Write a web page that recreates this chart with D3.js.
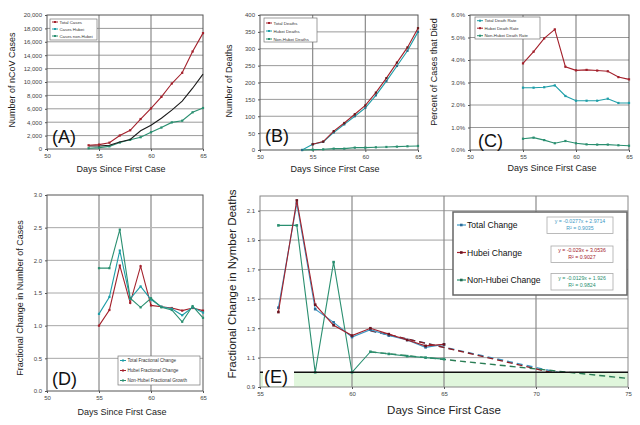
<!DOCTYPE html>
<html><head><meta charset="utf-8">
<script src="https://cdn.jsdelivr.net/npm/d3@7"></script>
<style>body{margin:0;background:#fff}svg{display:block;font-family:Arial,"Liberation Sans",sans-serif}</style>
</head><body><svg width="640" height="425"></svg>
<script>
// ---------- DATA ----------
const casesDays = [54,55,56,57,58,59,60,61,62,63,64,65];
const totalCases = [555,653,941,2019,2794,4473,6057,7783,9776,11374,14549,17295];
const hubeiCases = [444,444,549,1052,1423,2714,3554,4586,5806,7153,9074,11177];
const nonHubeiCases = [111,209,392,967,1371,1759,2503,3197,3970,4221,5475,6118];

const deathDays = [54,55,56,57,58,59,60,61,62,63,64,65];
const totalDeaths = [null,17,25,56,80,106,132,170,213,259,304,361];
const hubeiDeaths = [0,17,24,52,76,100,125,162,204,249,294,350];
const nonHubeiDeaths = [0,1,2,4,4,7,7,8,9,10,11,12];

const rateDays = [55,56,57,58,59,60,61,62,63,64,65];
const totalDeathRate = [2.77,2.77,2.79,2.87,2.40,2.19,2.19,2.19,2.28,2.09,2.09];
const hubeiDeathRate = [3.85,4.37,4.96,5.36,3.70,3.54,3.56,3.53,3.50,3.24,3.14];
const nonHubeiDeathRate = [0.50,0.55,0.44,0.30,0.40,0.30,0.25,0.24,0.24,0.21,0.19];

const fracDays = [55,56,57,58,59,60,61,62,63,64,65];
const totalFrac = [1.18,1.44,2.15,1.41,1.60,1.40,1.29,1.26,1.16,1.28,1.20];
const hubeiFrac = [1.00,1.24,1.92,1.35,1.91,1.31,1.29,1.27,1.23,1.27,1.23];
const nonHubeiFrac = [1.88,1.88,2.47,1.42,1.28,1.42,1.28,1.24,1.06,1.30,1.12];

const deathChangeDays = [56,57,58,59,60,61,62,63,64,65];
const totalDeathChange = [1.44,2.15,1.43,1.34,1.24,1.29,1.25,1.22,1.17,1.19];
const hubeiDeathChange = [1.41,2.17,1.46,1.32,1.25,1.30,1.26,1.22,1.18,1.19];
const nonHubeiDeathChange = [2.0,2.0,1.0,1.75,1.0,1.14,1.125,1.11,1.10,1.09];

const trendNames = ["Total Change","Hubei Change","Non-Hubei Change"];
const trendSlopes = [-0.0277,-0.029,-0.0129];
const trendIntercepts = [2.9714,3.0536,1.926];
const trendR2 = ["0.9035","0.9027","0.9824"];
const trendStart = 61, trendEnd = 75;

const ticksCases = [0,2000,4000,6000,8000,10000,12000,14000,16000,18000,20000];
const ticksDeaths = [0,50,100,150,200,250,300,350,400];
const ticksRate = [0,1,2,3,4,5,6];
const ticksFrac = [0,0.5,1,1.5,2,2.5,3];
const ticksChange = [0.9,1.1,1.3,1.5,1.7,1.9,2.1];
const ticksDaysSmall = [50,55,60,65];
const ticksDaysE = [55,60,65,70,75];

// ---------- STYLE ----------
const RED = "#a3202b", TEAL = "#1e9ea8", GREEN = "#2a8f70", DARK = "#1a1a1a", BLUE = "#3c98c4";
const svg = d3.select("svg");

function panel(o) {
  const x = d3.scaleLinear().domain(o.xDomain).range([o.left, o.right]);
  const y = d3.scaleLinear().domain(o.yDomain).range([o.bottom, o.top]);
  const g = svg.append("g");
  g.append("rect").attr("x", o.left).attr("y", o.top).attr("width", o.right - o.left)
    .attr("height", o.bottom - o.top).attr("fill", "#fff");
  if (o.shade) o.shade(g, x, y);
  g.selectAll(null).data(o.yTicks.filter(t => t !== o.yDomain[0] && t !== o.yDomain[1])).join("line")
    .attr("x1", o.left).attr("x2", o.right).attr("y1", d => y(d)).attr("y2", d => y(d))
    .attr("stroke", o.hColor || "#9a9a9a").attr("stroke-width", o.hWidth || 1);
  g.selectAll(null).data(o.vGrid).join("line")
    .attr("y1", o.top).attr("y2", o.bottom).attr("x1", d => x(d)).attr("x2", d => x(d))
    .attr("stroke", o.vColor || "#8a8a8a").attr("stroke-width", o.vWidth || 1.2);
  g.append("rect").attr("x", o.left).attr("y", o.top).attr("width", o.right - o.left)
    .attr("height", o.bottom - o.top).attr("fill", "none").attr("stroke", o.border || "#555").attr("stroke-width", 1);
  const ya = g.append("g").attr("transform", `translate(${o.left},0)`)
    .call(d3.axisLeft(y).tickValues(o.yTicks).tickFormat(o.yFmt).tickSize(2).tickPadding(3));
  const xa = g.append("g").attr("transform", `translate(0,${o.bottom})`)
    .call(d3.axisBottom(x).tickValues(o.xTicks).tickFormat(d3.format("d")).tickSize(2).tickPadding(3));
  [ya, xa].forEach(a => {
    a.select(".domain").remove();
    a.selectAll("line").attr("stroke", "#555");
    a.selectAll("text").attr("font-size", o.tickSize || 6).attr("fill", "#444").attr("font-family", "Arial, Liberation Sans");
  });
  g.append("text").attr("x", o.xTitle[0]).attr("y", o.xTitle[1]).attr("text-anchor", "middle")
    .attr("font-size", o.titleSize || 8.5).attr("fill", "#222").text("Days Since First Case");
  g.append("text").attr("transform", `translate(${o.yTitle[0]},${o.yTitle[1]}) rotate(-90)`)
    .attr("text-anchor", "middle").attr("font-size", o.titleSize || 8.5).attr("fill", "#222").text(o.yLabel);
  return {g, x, y};
}

function series(p, days, vals, color, opt = {}) {
  const pts = days.map((d, i) => [d, vals[i]]).filter(d => d[1] !== null);
  p.g.append("path").datum(pts)
    .attr("d", d3.line().x(d => p.x(d[0])).y(d => p.y(d[1])))
    .attr("fill", "none").attr("stroke", opt.line || color).attr("stroke-width", opt.w || 1.1);
  if (opt.noMarkers) return;
  const s = opt.ms || 2.2;
  p.g.selectAll(null).data(pts).join("rect")
    .attr("x", d => p.x(d[0]) - s / 2).attr("y", d => p.y(d[1]) - s / 2)
    .attr("width", s).attr("height", s).attr("fill", opt.marker || color);
}

function smallLegend(p, box, items, fs) {
  p.g.append("rect").attr("x", box[0]).attr("y", box[1]).attr("width", box[2]).attr("height", box[3])
    .attr("fill", "#fff").attr("stroke", "#777").attr("stroke-width", 0.7);
  items.forEach((it, i) => {
    const yy = box[4] + i * box[5];
    p.g.append("line").attr("x1", box[0] + 2).attr("x2", box[0] + 8).attr("y1", yy).attr("y2", yy)
      .attr("stroke", it[1]).attr("stroke-width", 1);
    p.g.append("rect").attr("x", box[0] + 4).attr("y", yy - 1).attr("width", 2).attr("height", 2).attr("fill", it[1]);
    p.g.append("text").attr("x", box[0] + 9.5).attr("y", yy).attr("dy", "0.35em")
      .attr("font-size", fs).attr("fill", "#333").text(it[0]);
  });
}

function bigLabel(p, x, y, t) {
  p.g.append("text").attr("x", x).attr("y", y).attr("font-size", 18).attr("fill", "#111").text(t);
}

// ---------- (A) ----------
const pA = panel({left: 47, right: 203, top: 15, bottom: 149, xDomain: [50, 65], yDomain: [0, 20000],
  yTicks: ticksCases, xTicks: ticksDaysSmall, vGrid: [55, 60], yFmt: d3.format(","),
  xTitle: [121, 172], yTitle: [15, 80], yLabel: "Number of  nCoV Cases", titleSize: 9});
series(pA, casesDays, nonHubeiCases, GREEN);
series(pA, casesDays, hubeiCases, DARK, {noMarkers: true});
series(pA, casesDays, totalCases, RED);
smallLegend(pA, [50, 19, 47, 21, 22, 7], [["Total Cases", RED], ["Cases Hubei", TEAL], ["Cases non-Hubei", GREEN]], 4.3);
bigLabel(pA, 52, 143, "(A)");

// ---------- (B) ----------
const pB = panel({left: 260, right: 418, top: 15, bottom: 150, xDomain: [50, 65], yDomain: [0, 400],
  yTicks: ticksDeaths, xTicks: ticksDaysSmall, vGrid: [55, 60], yFmt: d3.format("d"),
  xTitle: [335, 172], yTitle: [232, 81], yLabel: "Number of  Deaths", titleSize: 9});
series(pB, deathDays, nonHubeiDeaths, GREEN);
series(pB, deathDays, hubeiDeaths, TEAL, {marker: "#2a6f8a"});
series(pB, deathDays, totalDeaths, RED, {marker: "#6a1a1a"});
smallLegend(pB, [264, 18, 53, 24, 23, 8], [["Total Deaths", RED], ["Hubei Deaths", TEAL], ["Non-Hubei Deaths", GREEN]], 4.3);
bigLabel(pB, 265, 142, "(B)");

// ---------- (C) ----------
const pC = panel({left: 470, right: 629, top: 15, bottom: 150, xDomain: [50, 65], yDomain: [0, 6],
  yTicks: ticksRate, xTicks: ticksDaysSmall, vGrid: [55, 60], yFmt: d => d.toFixed(1) + "%",
  xTitle: [552, 171], yTitle: [437, 72], yLabel: "Percent of Cases that Died", titleSize: 9});
series(pC, rateDays, nonHubeiDeathRate, GREEN);
series(pC, rateDays, totalDeathRate, TEAL);
series(pC, rateDays, hubeiDeathRate, RED);
smallLegend(pC, [475, 17, 65, 22, 20.7, 7.5], [["Total Death Rate", TEAL], ["Hubei Death Rate", RED], ["Non-Hubei Death Rate", GREEN]], 4.3);
bigLabel(pC, 478, 147, "(C)");

// ---------- (D) ----------
const pD = panel({left: 47, right: 203, top: 195, bottom: 391, xDomain: [50, 65], yDomain: [0, 3],
  yTicks: ticksFrac, xTicks: ticksDaysSmall, vGrid: [55, 60], yFmt: d => d.toFixed(1),
  vColor: "#b8b8b8", vWidth: 2, hColor: "#a8a8a8",
  xTitle: [122, 415], yTitle: [23, 298], yLabel: "Fractional Change in Number of Cases", titleSize: 9});
series(pD, fracDays, hubeiFrac, RED);
series(pD, fracDays, totalFrac, TEAL);
series(pD, fracDays, nonHubeiFrac, GREEN);
smallLegend(pD, [118, 356, 82, 29, 360.5, 10], [["Total Fractional Change", TEAL], ["Hubei Fractional Change", RED], ["Non-Hubei Fractional Growth", GREEN]], 4.6);
bigLabel(pD, 52, 385, "(D)");

// ---------- (E) ----------
const pE = panel({left: 260, right: 628, top: 196, bottom: 387, xDomain: [55, 75], yDomain: [0.9, 2.2],
  yTicks: ticksChange, xTicks: ticksDaysE, vGrid: [60, 65, 70], yFmt: d => d.toFixed(1),
  hColor: "#a0a0a0", vColor: "#8a8a8a", border: "#888", titleSize: 11.5,
  shade: (g, x, y) => g.append("rect").attr("x", x(55)).attr("y", y(1.0)).attr("width", x(75) - x(55))
    .attr("height", y(0.9) - y(1.0)).attr("fill", "#e0f6dc"),
  xTitle: [444, 414], yTitle: [236, 284], yLabel: "Fractional Change in Nymber Deaths"});
// clip regions for trend lines
svg.append("clipPath").attr("id", "clipE").append("rect")
  .attr("x", 260).attr("y", 196).attr("width", 368).attr("height", 191);
svg.append("clipPath").attr("id", "clipE1").append("rect")
  .attr("x", 260).attr("y", 196).attr("width", 368).attr("height", pE.y(1.0) - 196);
const eColors = [BLUE, RED, GREEN];
trendSlopes.forEach((m, i) => {
  const xs = [trendStart, trendEnd];
  pE.g.append("path").datum(xs).attr("clip-path", i === 2 ? "url(#clipE)" : "url(#clipE1)")
    .attr("d", d3.line().x(d => pE.x(d)).y(d => pE.y(m * d + trendIntercepts[i])))
    .attr("fill", "none").attr("stroke", i === 1 ? "#8c1c22" : (i === 2 ? "#2a7d55" : BLUE))
    .attr("stroke-width", 1.4).attr("stroke-dasharray", "6,4");
});
series(pE, deathChangeDays, nonHubeiDeathChange, GREEN, {ms: 2.6});
series(pE, deathChangeDays, totalDeathChange, BLUE, {ms: 2.6, marker: "#2b6c9a"});
series(pE, deathChangeDays, hubeiDeathChange, RED, {ms: 2.6, marker: "#6a1420"});
// threshold line at 1.0
pE.g.append("line").attr("x1", pE.x(55)).attr("x2", pE.x(75)).attr("y1", pE.y(1.0)).attr("y2", pE.y(1.0))
  .attr("stroke", "#111").attr("stroke-width", 1.6);
pE.g.append("rect").attr("x", 263).attr("y", 366).attr("width", 31).attr("height", 20).attr("fill", "#fff");
bigLabel(pE, 264, 383, "(E)");

// legend E
pE.g.append("rect").attr("x", 453).attr("y", 212).attr("width", 174).attr("height", 83)
  .attr("fill", "#fff").attr("stroke", "#666").attr("stroke-width", 1.5);
const legY = [225, 252.5, 280];
const legMarker = ["#2b6c9a", "#6a1420", "#1f6a50"];
trendNames.forEach((n, i) => {
  pE.g.append("line").attr("x1", 457).attr("x2", 466).attr("y1", legY[i]).attr("y2", legY[i])
    .attr("stroke", eColors[i]).attr("stroke-width", 1.2);
  pE.g.append("rect").attr("x", 460).attr("y", legY[i] - 1.3).attr("width", 2.6).attr("height", 2.6).attr("fill", legMarker[i]);
  pE.g.append("text").attr("x", 467).attr("y", legY[i]).attr("dy", "0.35em").attr("font-size", 8.6)
    .attr("fill", "#111").text(n);
  const bx = i === 0 ? 547 : 551, by = [217, 246, 273.5][i], bw = 613 - bx, bh = 16.5;
  pE.g.append("rect").attr("x", bx).attr("y", by).attr("width", bw).attr("height", bh)
    .attr("fill", "#fff").attr("stroke", "#aaa").attr("stroke-width", 0.8);
  const m = trendSlopes[i], b = trendIntercepts[i];
  pE.g.append("text").attr("x", bx + bw / 2).attr("y", by + 6).attr("text-anchor", "middle")
    .attr("font-size", 5.2).attr("fill", eColors[i]).text(`y = ${m}x + ${b}`);
  pE.g.append("text").attr("x", bx + bw / 2).attr("y", by + 13).attr("text-anchor", "middle")
    .attr("font-size", 5.2).attr("fill", eColors[i]).text(`R² = ${trendR2[i]}`);
});
</script></body></html>
